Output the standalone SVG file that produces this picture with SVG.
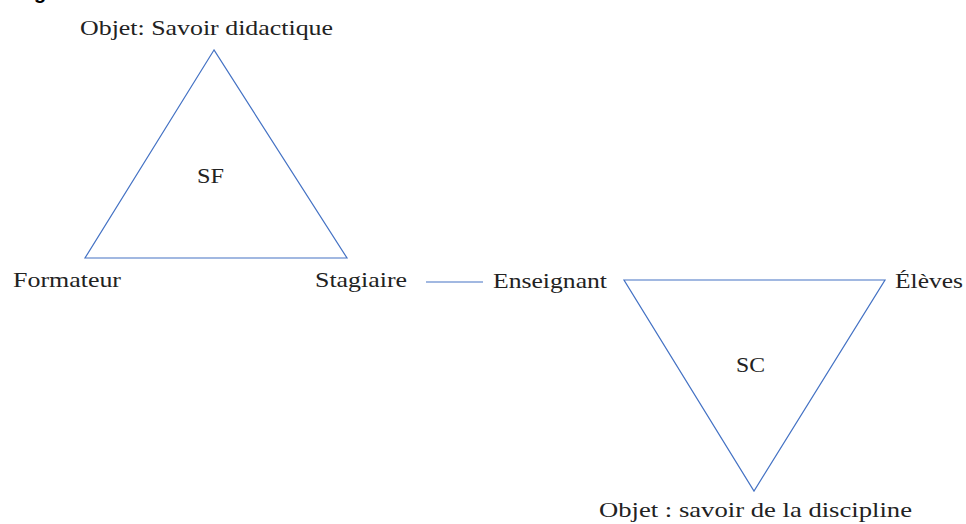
<svg xmlns="http://www.w3.org/2000/svg" width="966" height="524" viewBox="0 0 966 524">
<style>
.t{font-family:"Liberation Serif","Times New Roman",serif;font-size:22px;fill:#222222}
.tri{fill:none;stroke:#4472c4;stroke-width:1.2}
.conn{stroke:#4472c4;stroke-width:1.2;fill:none}
</style>
<rect width="966" height="524" fill="#ffffff"/>
<text x="34" y="-1" font-family="Liberation Sans, Arial, sans-serif" font-size="20" font-weight="bold" fill="#000">g</text>
<g id="triangle-SF">
<polygon class="tri" points="214,50 85,258 347,258"/>
<text class="t" x="197" y="183" textLength="27" lengthAdjust="spacingAndGlyphs">SF</text>
</g>
<g id="node-objet-savoir-didactique">
<text class="t" x="80" y="35" textLength="253" lengthAdjust="spacingAndGlyphs">Objet: Savoir didactique</text>
</g>
<g id="node-formateur">
<text class="t" x="13" y="287" textLength="108" lengthAdjust="spacingAndGlyphs">Formateur</text>
</g>
<g id="node-stagiaire">
<text class="t" x="315" y="287" textLength="92" lengthAdjust="spacingAndGlyphs">Stagiaire</text>
</g>
<g id="node-enseignant">
<text class="t" x="493" y="288" textLength="114" lengthAdjust="spacingAndGlyphs">Enseignant</text>
</g>
<g id="triangle-SC">
<polygon class="tri" points="624,280 885,280 754,491"/>
<text class="t" x="736" y="372" textLength="29" lengthAdjust="spacingAndGlyphs">SC</text>
</g>
<g id="node-eleves">
<text class="t" x="895" y="288" textLength="68" lengthAdjust="spacingAndGlyphs">Élèves</text>
</g>
<g id="node-objet-savoir-discipline">
<text class="t" x="599" y="517" textLength="313" lengthAdjust="spacingAndGlyphs">Objet : savoir de la discipline</text>
</g>
<g id="connectors">
<line class="conn" x1="426" y1="282" x2="483" y2="282"/>
</g>
</svg>
